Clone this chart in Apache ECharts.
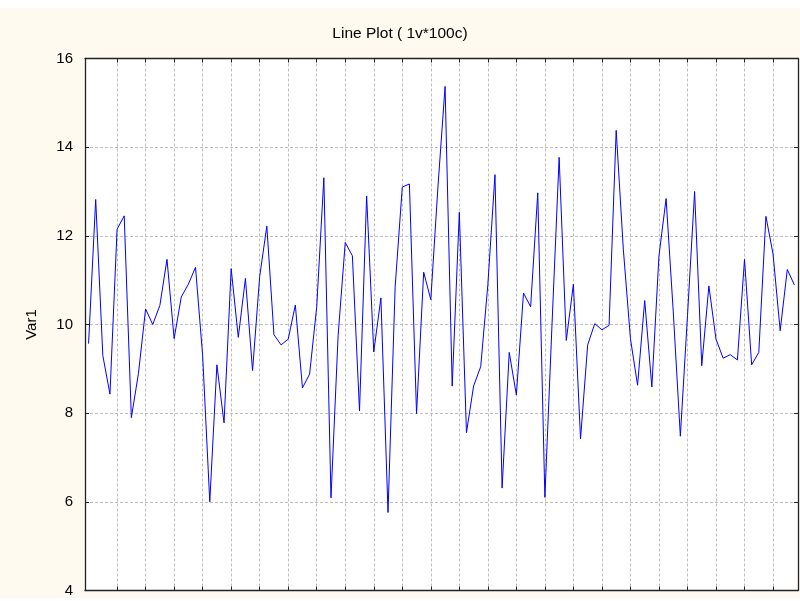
<!DOCTYPE html>
<html>
<head>
<meta charset="utf-8">
<title>Line Plot</title>
<script src="https://cdn.jsdelivr.net/npm/echarts@6/dist/echarts.min.js"></script>
<style>
  html, body { margin: 0; padding: 0; background: #fff; }
  #chart { position: absolute; left: 0; top: 8px; width: 800px; height: 590px; }
</style>
</head>
<body>
<div id="chart"></div>
<script>
// Var1, 100 cases
const var1 = [
  9.57, 12.82, 9.30, 8.43, 12.15, 12.45, 7.90, 8.90, 10.35, 10.00,
  10.43, 11.47, 9.68, 10.62, 10.91, 11.29, 9.30, 6.00, 9.09, 7.78,
  11.26, 9.71, 11.04, 8.96, 11.08, 12.22, 9.77, 9.54, 9.67, 10.44,
  8.57, 8.88, 10.40, 13.31, 6.09, 9.75, 11.85, 11.55, 8.05, 12.90,
  9.38, 10.60, 5.76, 10.85, 13.10, 13.17, 7.99, 11.18, 10.56, 13.10,
  15.37, 8.61, 12.53, 7.56, 8.61, 9.05, 10.90, 13.38, 6.31, 9.37,
  8.41, 10.71, 10.40, 12.97, 6.10, 10.00, 13.77, 9.64, 10.91, 7.42,
  9.54, 10.02, 9.88, 9.98, 14.38, 11.70, 9.68, 8.63, 10.54, 8.59,
  11.55, 12.84, 10.30, 7.48, 10.20, 13.00, 9.07, 10.87, 9.67, 9.24,
  9.32, 9.20, 11.47, 9.09, 9.37, 12.44, 11.59, 9.86, 11.24, 10.89
]
// x gridlines fall on every 4th case
const xGridCases = [4, 8, 12, 16, 20, 24, 28, 32, 36, 40, 44, 48, 52, 56, 60, 64, 68, 72, 76, 80, 84, 88, 92, 96]
const yTicks = [4, 6, 8, 10, 12, 14, 16]

const font = "'Liberation Sans', Arial, sans-serif"
const seriesData = var1.map((v, i) => [i, v])

const chart = echarts.init(document.getElementById('chart'), null, { renderer: 'canvas' })

function xAxisCfg(pos, grid) {
  return {
    type: 'value',
    position: pos,
    min: -0.5,
    max: 99.5,
    axisLine: { show: true, onZero: false, lineStyle: { color: '#222', width: 1.3 } },
    axisTick: { show: true, inside: true, length: 4, customValues: xGridCases, lineStyle: { color: '#222' } },
    axisLabel: { show: false, customValues: xGridCases },
    splitLine: {
      show: grid,
      customValues: xGridCases,
      lineStyle: { color: '#bdbdbd', type: [3, 2], width: 1 }
    }
  }
}

function yAxisCfg(pos, labels) {
  return {
    type: 'value',
    position: pos,
    min: yTicks[0],
    max: yTicks[yTicks.length - 1],
    interval: 2,
    name: labels ? 'Var1' : '',
    nameLocation: 'middle',
    nameGap: 46,
    nameTextStyle: { color: '#000', fontSize: 15, fontFamily: font },
    axisLine: { show: true, onZero: false, lineStyle: { color: '#222', width: 1.3 } },
    axisTick: { show: true, inside: true, length: 4, lineStyle: { color: '#222' } },
    axisLabel: { show: labels, color: '#000', fontSize: 15, fontFamily: font, margin: 12 },
    splitLine: { show: labels, lineStyle: { color: '#bdbdbd', type: [3, 2], width: 1 } }
  }
}

chart.setOption({
  backgroundColor: '#fffaf0',
  animation: false,
  title: {
    text: 'Line Plot ( 1v*100c)',
    left: 'center',
    top: 13,
    textStyle: { color: '#000', fontSize: 15.5, fontWeight: 'normal', fontFamily: font }
  },
  grid: {
    left: 85,
    right: 2,
    top: 50.5,
    bottom: 3,
    show: true,
    backgroundColor: '#fff',
    borderWidth: 0
  },
  xAxis: [xAxisCfg('bottom', true), xAxisCfg('top', false)],
  yAxis: [yAxisCfg('left', true), yAxisCfg('right', false)],
  series: [
    {
      name: 'Var1',
      type: 'line',
      data: seriesData,
      symbol: 'none',
      lineStyle: { color: '#0000ff', width: 1 },
      z: 5
    }
  ]
})
</script>
</body>
</html>
